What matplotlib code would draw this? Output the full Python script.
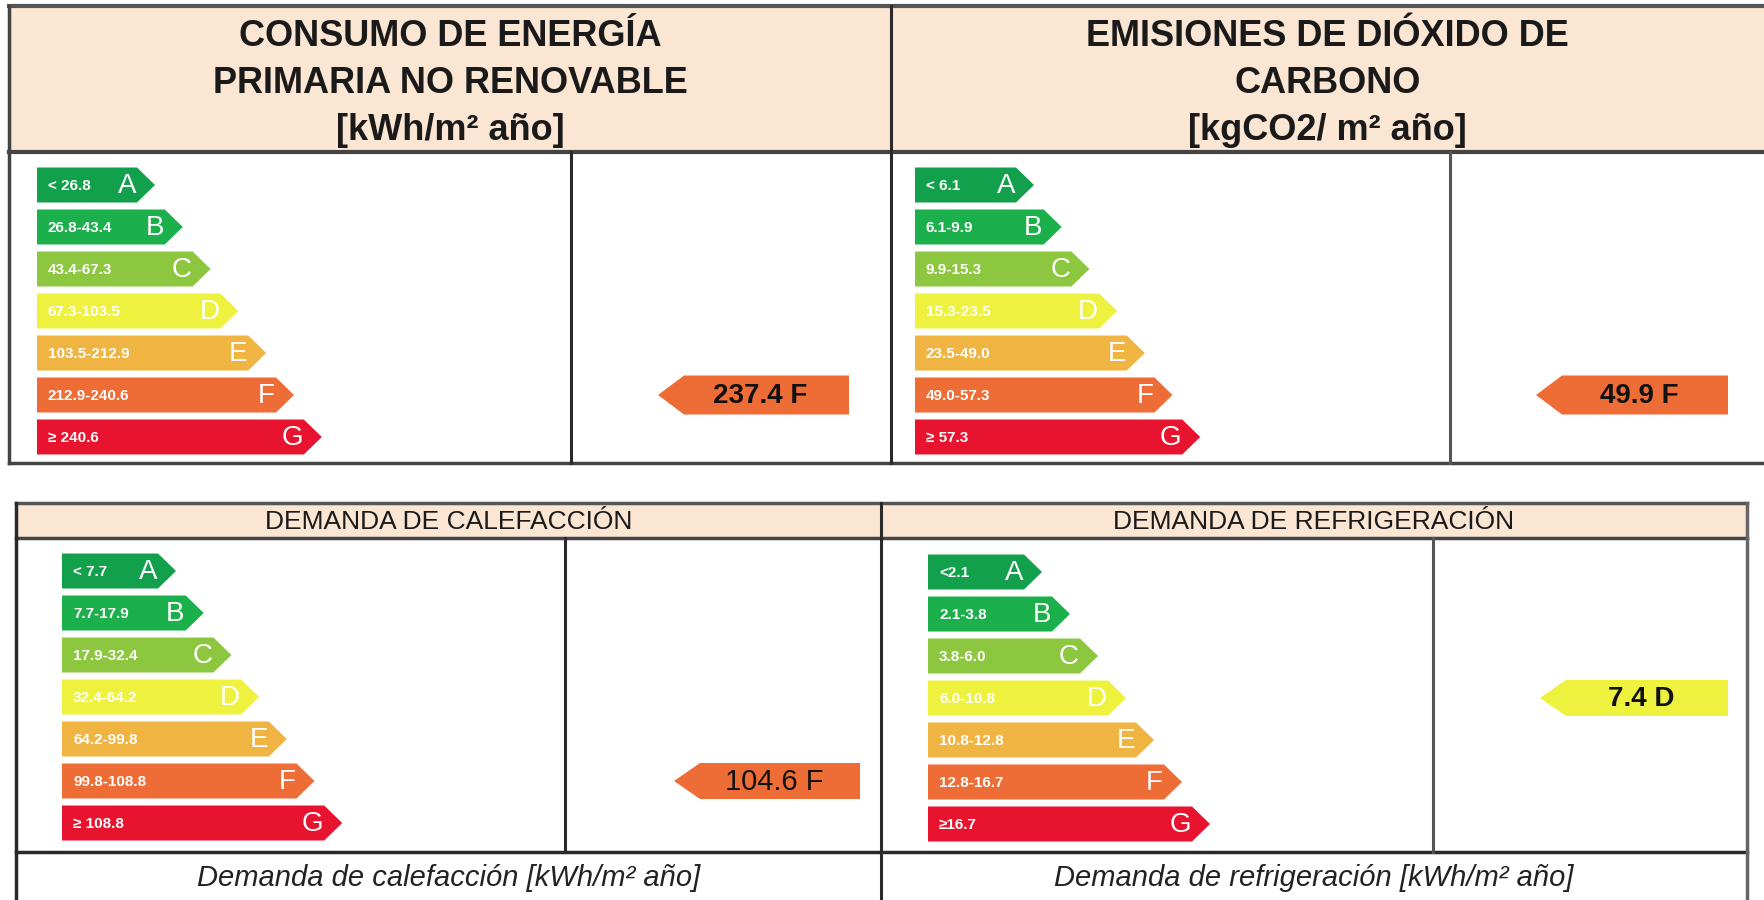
import matplotlib
matplotlib.use("Agg")
import matplotlib.pyplot as plt
from matplotlib.patches import Polygon, Rectangle

# ---------------- data ----------------
classes = ["A", "B", "C", "D", "E", "F", "G"]
class_colors = ["#13a04d", "#1bb04c", "#8dc63f", "#eef23e", "#f0b442", "#ee6d36", "#e8132f"]

title_energy = "CONSUMO DE ENERGÍA\nPRIMARIA NO RENOVABLE\n[kWh/m² año]"
title_co2 = "EMISIONES DE DIÓXIDO DE\nCARBONO\n[kgCO2/ m² año]"
title_heat = "DEMANDA DE CALEFACCIÓN"
title_cool = "DEMANDA DE REFRIGERACIÓN"
footer_heat = "Demanda de calefacción [kWh/m² año]"
footer_cool = "Demanda de refrigeración [kWh/m² año]"

ranges_energy = ["< 26.8", "26.8-43.4", "43.4-67.3", "67.3-103.5", "103.5-212.9", "212.9-240.6", "≥ 240.6"]
ranges_co2 = ["< 6.1", "6.1-9.9", "9.9-15.3", "15.3-23.5", "23.5-49.0", "49.0-57.3", "≥ 57.3"]
ranges_heat = ["< 7.7", "7.7-17.9", "17.9-32.4", "32.4-64.2", "64.2-99.8", "99.8-108.8", "≥ 108.8"]
ranges_cool = ["<2.1", "2.1-3.8", "3.8-6.0", "6.0-10.8", "10.8-12.8", "12.8-16.7", "≥16.7"]

value_energy, rating_energy = 237.4, "F"
value_co2, rating_co2 = 49.9, "F"
value_heat, rating_heat = 104.6, "F"
value_cool, rating_cool = 7.4, "D"

# ---------------- figure ----------------
W, H = 1764, 900
fig = plt.figure(figsize=(W / 100, H / 100), dpi=100)
ax = fig.add_axes([0, 0, 1, 1])
ax.set_xlim(0, W)
ax.set_ylim(H, 0)
ax.axis("off")

FONT = "Liberation Sans"
HEADER_BG = "#fbe6d4"
LINE = "#2a2a2a"


def line(x0, y0, x1, y1, lw=2.2, color=LINE):
    ax.plot([x0, x1], [y0, y1], color=color, lw=lw, solid_capstyle="projecting", zorder=5)


def scale(x_left, a_width, step, first_center, pitch, bar_h, ranges, tip=18):
    for i, (cls, col, rng) in enumerate(zip(classes, class_colors, ranges)):
        c = first_center + i * pitch
        top, bot = c - bar_h / 2, c + bar_h / 2
        xr = x_left + a_width + i * step
        pts = [(x_left, top), (xr - tip, top), (xr, c), (xr - tip, bot), (x_left, bot)]
        ax.add_patch(Polygon(pts, closed=True, facecolor=col, edgecolor="none", zorder=3))
        ax.text(xr - tip - 1, c + 1, cls, color="white", fontsize=20, family=FONT,
                ha="right", va="center", zorder=4)
        ax.text(x_left + 11, c + 1, rng, color="white", fontsize=11, family=FONT,
                fontweight="bold", ha="left", va="center", zorder=4)


def indicator(value, rating, first_center, pitch, tip_x, right_x, h, weight="bold",
              fs=20, tip=26):
    i = classes.index(rating)
    c = first_center + i * pitch
    col = class_colors[i]
    top, bot = c - h / 2, c + h / 2
    pts = [(tip_x, c), (tip_x + tip, top), (right_x, top), (right_x, bot), (tip_x + tip, bot)]
    ax.add_patch(Polygon(pts, closed=True, facecolor=col, edgecolor="none", zorder=3))
    ax.text((tip_x + tip + right_x) / 2 - 6, c + 1, f"{value:.1f} {rating}", color="#111111",
            fontsize=fs, family=FONT, fontweight=weight, ha="center", va="center", zorder=4)


# ---------------- top table ----------------
tl, tt, tr, thb, tb = 9, 6, 1770, 152, 463
tmid = 891
ax.add_patch(Rectangle((tl, tt), tr - tl, thb - tt, facecolor=HEADER_BG, edgecolor="none", zorder=1))
line(tl, tt, tr, tt, lw=3, color="#555555")
line(tl, thb, tr, thb, lw=3, color="#444444")
line(tl, tb, tr, tb, lw=2.5, color="#444444")
line(tl, tt, tl, tb, lw=2.5, color="#444444")
line(tmid, tt, tmid, tb, lw=2.2)
line(571, thb, 571, tb, lw=2.2)
line(1450, thb, 1450, tb, lw=2.2, color="#555555")

for cx, title in [((tl + tmid) / 2, title_energy), ((tmid + 1764) / 2, title_co2)]:
    for k, ln in enumerate(title.split("\n")):
        ax.text(cx, 37 + k * 46.5, ln, fontsize=26, family=FONT, fontweight="bold",
                color="#1a1a1a", ha="center", va="center", zorder=4)

scale(37, 118, 27.8, 185, 42, 35, ranges_energy)
scale(915, 119, 27.7, 185, 42, 35, ranges_co2)
indicator(value_energy, rating_energy, 185, 42, 658, 849, 39)
indicator(value_co2, rating_co2, 185, 42, 1536, 1728, 39)

# ---------------- bottom table ----------------
bl, bt, br, bhb, bbar, bb = 16, 503, 1747, 538, 852, 905
bmid = 881
ax.add_patch(Rectangle((bl, bt), br - bl, bhb - bt, facecolor=HEADER_BG, edgecolor="none", zorder=1))
line(bl, bt, br, bt, lw=2.5, color="#555555")
line(bl, bhb, br, bhb, lw=2.5, color="#444444")
line(bl, bbar, br, bbar, lw=2.5)
line(bl, bt, bl, bb, lw=2.5)
line(br, bt, br, bb, lw=2.5, color="#666666")
line(bmid, bt, bmid, bb, lw=2.2)
line(565, bhb, 565, bbar, lw=2.2)
line(1433, bhb, 1433, bbar, lw=2.2, color="#555555")

for cx, title in [((bl + bmid) / 2, title_heat), ((bmid + br) / 2, title_cool)]:
    ax.text(cx, 522, title, fontsize=19, family=FONT, color="#1a1a1a",
            ha="center", va="center", zorder=4)
for cx, foot in [((bl + bmid) / 2, footer_heat), ((bmid + br) / 2, footer_cool)]:
    ax.text(cx, 878, foot, fontsize=21, family=FONT, style="italic", color="#222222",
            ha="center", va="center", zorder=4)

scale(62, 114, 27.7, 571, 42, 35, ranges_heat)
scale(928, 114, 28.0, 572, 42, 35, ranges_cool)
indicator(value_heat, rating_heat, 571, 42, 674, 860, 36, weight="normal", fs=21)
indicator(value_cool, rating_cool, 572, 42, 1540, 1728, 36)

fig.savefig("out.png", dpi=100, facecolor="white")
